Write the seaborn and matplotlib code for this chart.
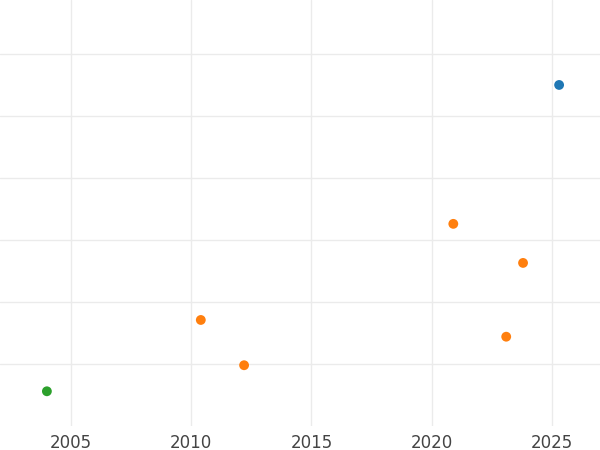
import matplotlib
matplotlib.use("Agg")
import matplotlib.pyplot as plt
import seaborn as sns
import pandas as pd

years = [2025.3, 2020.9, 2023.8, 2010.4, 2023.1, 2012.2, 2004.0]
values = [5.5, 3.26, 2.63, 1.71, 1.44, 0.98, 0.56]
groups = ["A", "B", "B", "B", "B", "B", "C"]
palette = {"A": "#1f77b4", "B": "#ff7f0e", "C": "#2ca02c"}
xticks = [2005, 2010, 2015, 2020, 2025]

df = pd.DataFrame({"year": years, "value": values, "group": groups})
sns.set_style("whitegrid")
fig = plt.figure(figsize=(6, 4.5), dpi=100)
ax = fig.add_axes([0, 24/450, 1, 426/450])
sns.scatterplot(data=df, x="year", y="value", hue="group", palette=palette,
                s=50, edgecolor="none", legend=False, ax=ax)
ax.set_xlim(2002.05, 2027.0)
ax.set_ylim(0, 6.87)
ax.set_xticks(xticks)
ax.set_yticks([1, 2, 3, 4, 5, 6])
ax.set_yticklabels([])
ax.tick_params(axis="y", length=0)
ax.tick_params(axis="x", length=0, labelsize=12, colors="#444444", pad=6)
ax.grid(True, color="#ebebeb", linewidth=1)
ax.set_xlabel("")
ax.set_ylabel("")
for s in ax.spines.values():
    s.set_visible(False)
fig.savefig("out.png", dpi=100)
